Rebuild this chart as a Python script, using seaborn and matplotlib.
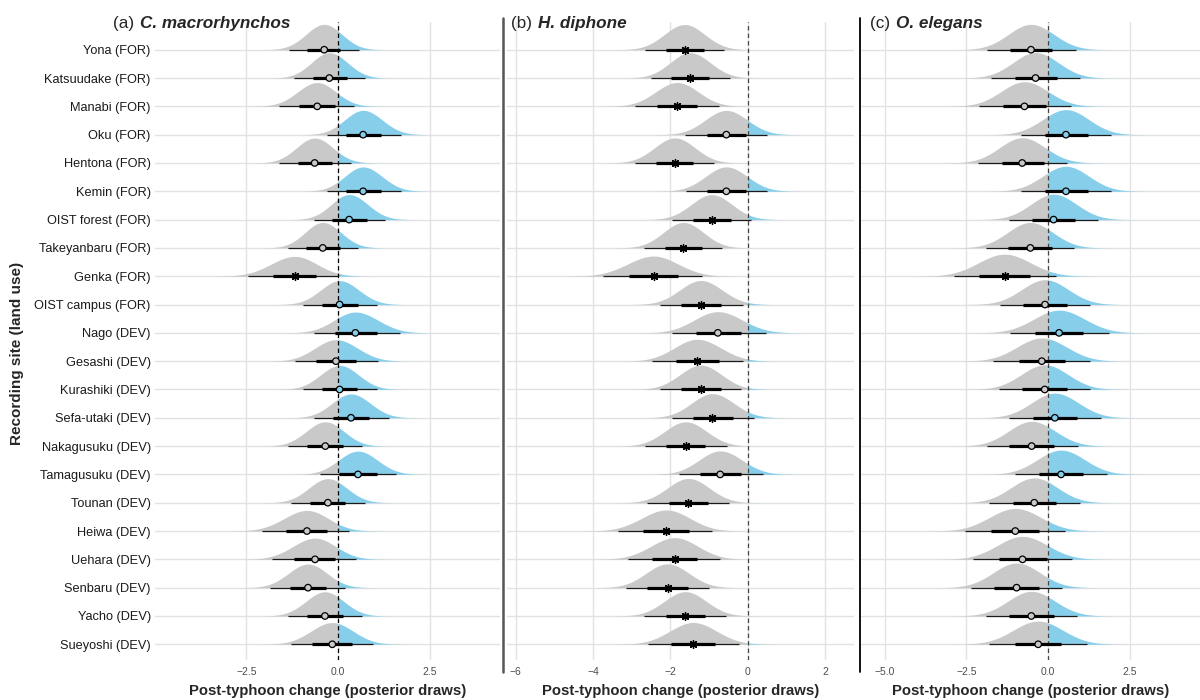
import numpy as np
import pandas as pd
import matplotlib
matplotlib.use("Agg")
import matplotlib.pyplot as plt
from matplotlib.lines import Line2D
import seaborn as sns

# --- data ---
sites = [
    "Yona (FOR)", "Katsuudake (FOR)", "Manabi (FOR)", "Oku (FOR)", "Hentona (FOR)",
    "Kemin (FOR)", "OIST forest (FOR)", "Takeyanbaru (FOR)", "Genka (FOR)",
    "OIST campus (FOR)", "Nago (DEV)", "Gesashi (DEV)", "Kurashiki (DEV)",
    "Sefa-utaki (DEV)", "Nakagusuku (DEV)", "Tamagusuku (DEV)", "Tounan (DEV)",
    "Heiwa (DEV)", "Uehara (DEV)", "Senbaru (DEV)", "Yacho (DEV)", "Sueyoshi (DEV)",
]

# (a) C. macrorhynchos
a_med = [-0.38, -0.24, -0.57, 0.68, -0.64, 0.68, 0.30, -0.42, -1.18, 0.04, 0.47,
         -0.06, 0.04, 0.35, -0.35, 0.54, -0.28, -0.85, -0.63, -0.82, -0.36, -0.16]
a_lo95 = [-1.35, -1.19, -1.61, -0.30, -1.61, -0.30, -0.65, -1.36, -2.45, -0.97, -0.66,
          -1.17, -0.97, -0.66, -1.36, -0.50, -1.29, -2.07, -1.81, -1.86, -1.37, -1.29]
a_hi95 = [0.57, 0.73, 0.43, 1.70, 0.34, 1.70, 1.29, 0.55, 0.00, 1.07, 1.68,
          1.09, 1.05, 1.38, 0.64, 1.59, 0.73, 0.29, 0.48, 0.20, 0.64, 0.95]
a_lo66 = [-0.85, -0.68, -1.06, 0.21, -1.09, 0.21, -0.16, -0.87, -1.77, -0.45, -0.09,
          -0.59, -0.45, -0.15, -0.85, 0.03, -0.77, -1.43, -1.19, -1.32, -0.85, -0.70]
a_hi66 = [0.06, 0.23, -0.09, 1.18, -0.16, 1.16, 0.78, 0.05, -0.59, 0.53, 1.05,
          0.48, 0.52, 0.84, 0.14, 1.05, 0.20, -0.29, -0.09, -0.32, 0.12, 0.37]
a_sig = [0, 0, 0, 0, 0, 0, 0, 0, 1, 0, 0, 0, 0, 0, 0, 0, 0, 0, 0, 0, 0, 0]

# (b) H. diphone
b_med = [-1.63, -1.49, -1.82, -0.55, -1.88, -0.55, -0.93, -1.66, -2.43, -1.21, -0.77,
         -1.30, -1.21, -0.91, -1.60, -0.71, -1.53, -2.10, -1.88, -2.07, -1.61, -1.41]
b_lo95 = [-2.65, -2.49, -2.91, -1.61, -2.91, -1.60, -1.96, -2.67, -3.74, -2.27, -1.96,
          -2.46, -2.27, -1.96, -2.66, -1.78, -2.59, -3.35, -3.09, -3.15, -2.67, -2.58]
b_hi95 = [-0.61, -0.46, -0.75, 0.51, -0.86, 0.51, 0.10, -0.65, -1.19, -0.13, 0.47,
          -0.11, -0.16, 0.17, -0.54, 0.41, -0.47, -0.91, -0.72, -0.99, -0.55, -0.22]
b_lo66 = [-2.11, -1.97, -2.34, -1.06, -2.37, -1.06, -1.42, -2.14, -3.06, -1.72, -1.34,
          -1.85, -1.72, -1.41, -2.10, -1.22, -2.03, -2.70, -2.46, -2.59, -2.11, -1.97]
b_hi66 = [-1.14, -0.99, -1.30, -0.04, -1.40, -0.04, -0.44, -1.17, -1.81, -0.70, -0.17,
          -0.73, -0.70, -0.39, -1.09, -0.18, -1.02, -1.51, -1.32, -1.55, -1.11, -0.84]
b_sig = [1, 1, 1, 0, 1, 0, 1, 1, 1, 1, 0, 1, 1, 1, 1, 0, 1, 1, 1, 1, 1, 1]

# (c) O. elegans
c_med = [-0.52, -0.38, -0.72, 0.55, -0.79, 0.55, 0.17, -0.54, -1.33, -0.09, 0.34,
         -0.19, -0.10, 0.21, -0.50, 0.40, -0.42, -1.00, -0.78, -0.96, -0.51, -0.30]
c_lo95 = [-1.87, -1.73, -2.11, -0.84, -2.14, -0.84, -1.18, -1.90, -2.89, -1.48, -1.17,
          -1.67, -1.50, -1.18, -1.88, -1.02, -1.81, -2.53, -2.28, -2.36, -1.90, -1.79]
c_hi95 = [0.85, 0.98, 0.69, 1.92, 0.59, 1.92, 1.54, 0.81, 0.24, 1.30, 1.87,
          1.30, 1.30, 1.62, 0.91, 1.82, 0.97, 0.52, 0.72, 0.44, 0.90, 1.18]
c_lo66 = [-1.17, -1.01, -1.39, -0.10, -1.42, -0.10, -0.49, -1.21, -2.10, -0.77, -0.39,
          -0.89, -0.78, -0.46, -1.18, -0.28, -1.08, -1.73, -1.50, -1.65, -1.18, -1.00]
c_hi66 = [0.13, 0.29, -0.05, 1.23, -0.12, 1.23, 0.84, 0.11, -0.56, 0.58, 1.07,
          0.53, 0.57, 0.89, 0.17, 1.08, 0.26, -0.26, -0.03, -0.28, 0.17, 0.41]
c_sig = [0, 0, 0, 0, 0, 0, 0, 0, 1, 0, 0, 0, 0, 0, 0, 0, 0, 0, 0, 0, 0, 0]

panels = [
    ("(a)", "C. macrorhynchos", a_med, a_lo95, a_hi95, a_lo66, a_hi66, a_sig),
    ("(b)", "H. diphone", b_med, b_lo95, b_hi95, b_lo66, b_hi66, b_sig),
    ("(c)", "O. elegans", c_med, c_lo95, c_hi95, c_lo66, c_hi66, c_sig),
]
xticks = [[-2.5, 0.0, 2.5], [-6, -4, -2, 0, 2], [-5.0, -2.5, 0.0, 2.5]]
xticklabels = [["\u22122.5", "0.0", "2.5"],
               ["\u22126", "\u22124", "\u22122", "0", "2"],
               ["\u22125.0", "\u22122.5", "0.0", "2.5"]]

# --- layout (pixels of a 1200x700 canvas) ---
W, H = 1200, 700
panel_px = [(155, 500), (507, 854), (861, 1200)]
xlims = [(-4.99, 4.41), (-6.22, 2.75), (-5.72, 4.65)]
top_px, bot_px = 21.7, 660

GREY = "#C9C9C9"
BLUE = "#87CEEB"

sns.set_theme(style="whitegrid")
plt.rcParams["font.family"] = ["Liberation Sans", "DejaVu Sans"]

fig = plt.figure(figsize=(12, 7), dpi=100)
n = len(sites)
ypos = np.arange(n)[::-1].astype(float)  # Yona on top

for k, (tag, species, med, lo95, hi95, lo66, hi66, sig) in enumerate(panels):
    x0, x1 = panel_px[k]
    ax = fig.add_axes([x0 / W, 1 - bot_px / H, (x1 - x0) / W, (bot_px - top_px) / H])
    df = pd.DataFrame({"site": sites, "y": ypos, "med": med, "lo95": lo95,
                       "hi95": hi95, "lo66": lo66, "hi66": hi66, "sig": sig})
    df["sl"] = (df["med"] - df["lo95"]) / 1.96
    df["sr"] = (df["hi95"] - df["med"]) / 1.96
    peak_max = (2 / (np.sqrt(2 * np.pi) * (df["sl"] + df["sr"]))).max()

    # half-eye slabs (split normal from median and 95% bounds)
    for _, r in df.iterrows():
        xs = np.linspace(r.med - 3.6 * r.sl, r.med + 3.6 * r.sr, 500)
        if xs[0] < 0 < xs[-1]:
            xs = np.sort(np.append(xs, 0.0))
        s = np.where(xs < r.med, r.sl, r.sr)
        dens = 2 / (np.sqrt(2 * np.pi) * (r.sl + r.sr)) * np.exp(-0.5 * ((xs - r.med) / s) ** 2)
        h = 0.9 * dens / peak_max
        ax.fill_between(xs, r.y, r.y + h, where=xs <= 0, color=GREY, lw=0, zorder=2)
        ax.fill_between(xs, r.y, r.y + h, where=xs >= 0, color=BLUE, lw=0, zorder=2)

    ax.axvline(0, color="black" if k == 0 else "#444444", lw=0.9, ls=(0, (3.5, 2.5)), zorder=2.5)

    # intervals
    ax.hlines(df["y"], df["lo95"], df["hi95"], color="#1a1a1a", lw=0.9, zorder=3)
    ax.hlines(df["y"], df["lo66"], df["hi66"], color="black", lw=2.3, zorder=3)

    # medians
    circ = df[df["sig"] == 0].copy()
    circ["side"] = np.where(circ["med"] < 0, "neg", "pos")
    sns.scatterplot(data=circ, x="med", y="y", hue="side", palette={"neg": GREY, "pos": BLUE},
                    marker="o", s=22, edgecolor="black", linewidth=0.9, legend=False,
                    ax=ax, zorder=4)
    star = df[df["sig"] == 1]
    ax.scatter(star["med"], star["y"], marker=(8, 2, 0), s=32, color="black", lw=1.0, zorder=4)

    ax.set_xlim(*xlims[k])
    ax.set_ylim(-0.555, 21.99)
    ax.set_yticks(ypos)
    if k == 0:
        ax.set_yticklabels(sites, fontsize=9.2, color="#1a1a1a")
    else:
        ax.set_yticklabels([])
    ax.set_xticks(xticks[k])
    ax.set_xticklabels(xticklabels[k], fontsize=7.5, color="#4D4D4D")
    ax.tick_params(length=0, pad=3)
    ax.tick_params(axis="x", pad=5)
    ax.grid(True, color="#E2E2E2", lw=1.0)
    ax.set_axisbelow(True)
    ax.set_facecolor("white")
    for sp in ax.spines.values():
        sp.set_visible(False)
    ax.set_xlabel("Post-typhoon change (posterior draws)", fontsize=10.7, fontweight="bold",
                  labelpad=5)
    ax.set_ylabel("")

    # panel title: tag normal + species bold italic
    tx = [113, 511, 870][k]
    t1 = fig.text(tx / W, 1 - 28 / H, tag, fontsize=12.3, va="baseline", ha="left")
    ax.annotate(species, xy=(1, 0), xycoords=t1, xytext=(4, 0), textcoords="offset points",
                va="bottom", ha="left", fontsize=12.3, fontweight="bold", fontstyle="italic")

fig.text(17 / W, 1 - 353 / H, "Recording site (land use)", rotation=90, va="center",
         ha="center", fontsize=11, fontweight="bold")

# separators at the left of panels b and c
fig.add_artist(Line2D([503 / W, 503 / W], [1 - 18 / H, 1 - 672 / H], color="#555555", lw=1.8))
fig.add_artist(Line2D([860 / W, 860 / W], [1 - 18 / H, 1 - 672 / H], color="black", lw=1.3))

fig.savefig("out.png", dpi=100)
